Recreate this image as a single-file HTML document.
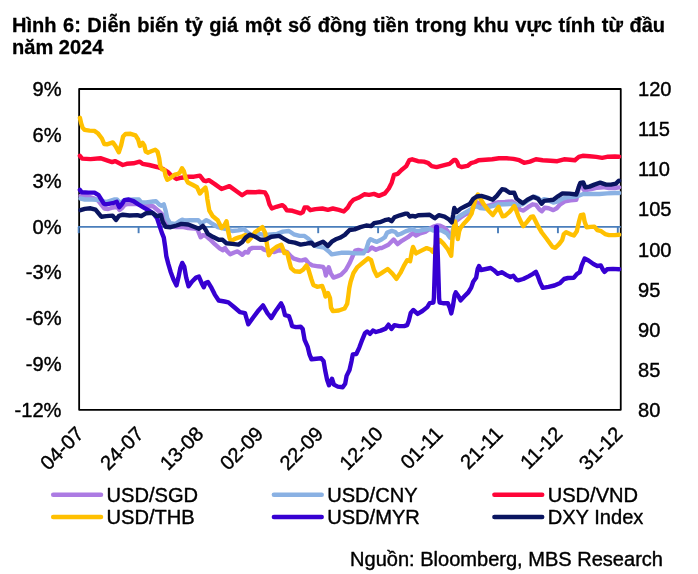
<!DOCTYPE html>
<html><head><meta charset="utf-8"><title>Chart</title>
<style>
html,body{margin:0;padding:0;background:#fff;}
body{width:698px;height:574px;overflow:hidden;position:relative;font-family:"Liberation Sans",sans-serif;}
svg{position:absolute;left:0;top:0;}
svg text{font-family:"Liberation Sans",sans-serif;fill:#000;stroke:#000;stroke-width:0.4px;stroke-linejoin:round;}
.t{font-weight:bold;font-size:20.05px;stroke-width:0.3px;}
.a{font-size:20.1px;}
</style></head><body>
<svg style="will-change:transform" width="698" height="574" viewBox="0 0 698 574">
<rect x="0" y="0" width="698" height="574" fill="#fff"/>
<text class="t" x="12" y="32.3" style="word-spacing:0.95px">Hình 6: Diễn biến tỷ giá một số đồng tiền trong khu vực tính từ đầu</text>
<text class="t" x="12" y="54.4">năm 2024</text>

<text class="a" text-anchor="end" x="61.5" y="96.1">9%</text>
<text class="a" text-anchor="end" x="61.5" y="141.9">6%</text>
<text class="a" text-anchor="end" x="61.5" y="187.8">3%</text>
<text class="a" text-anchor="end" x="61.5" y="233.6">0%</text>
<text class="a" text-anchor="end" x="61.5" y="279.4">-3%</text>
<text class="a" text-anchor="end" x="61.5" y="325.2">-6%</text>
<text class="a" text-anchor="end" x="61.5" y="371.1">-9%</text>
<text class="a" text-anchor="end" x="61.5" y="416.9">-12%</text>
<text class="a" x="638.0" y="96.1">120</text>
<text class="a" x="638.0" y="136.2">115</text>
<text class="a" x="638.0" y="176.3">110</text>
<text class="a" x="638.0" y="216.4">105</text>
<text class="a" x="638.0" y="256.5">100</text>
<text class="a" x="638.0" y="296.6">95</text>
<text class="a" x="638.0" y="336.7">90</text>
<text class="a" x="638.0" y="376.8">85</text>
<text class="a" x="638.0" y="416.9">80</text>
<rect x="79.15" y="89.0" width="541.6" height="320.8" fill="none" stroke="#000" stroke-width="1.8" stroke-linejoin="round"/>
<line x1="77.95" y1="226.9" x2="620.8" y2="226.9" stroke="#4A7EBB" stroke-width="1.9"/>
<line x1="78.7" y1="226.9" x2="78.7" y2="233.2" stroke="#4A7EBB" stroke-width="1.9"/>
<line x1="138.6" y1="226.9" x2="138.6" y2="233.2" stroke="#4A7EBB" stroke-width="1.9"/>
<line x1="198.4" y1="226.9" x2="198.4" y2="233.2" stroke="#4A7EBB" stroke-width="1.9"/>
<line x1="258.4" y1="226.9" x2="258.4" y2="233.2" stroke="#4A7EBB" stroke-width="1.9"/>
<line x1="318.2" y1="226.9" x2="318.2" y2="233.2" stroke="#4A7EBB" stroke-width="1.9"/>
<line x1="378.1" y1="226.9" x2="378.1" y2="233.2" stroke="#4A7EBB" stroke-width="1.9"/>
<line x1="438.0" y1="226.9" x2="438.0" y2="233.2" stroke="#4A7EBB" stroke-width="1.9"/>
<line x1="498.0" y1="226.9" x2="498.0" y2="233.2" stroke="#4A7EBB" stroke-width="1.9"/>
<line x1="557.9" y1="226.9" x2="557.9" y2="233.2" stroke="#4A7EBB" stroke-width="1.9"/>
<line x1="617.8" y1="226.9" x2="617.8" y2="233.2" stroke="#4A7EBB" stroke-width="1.9"/>
<g fill="none" stroke-width="4.4" stroke-linejoin="round" stroke-linecap="round">
<polyline stroke="#AC7BE3" points="80.5,196.0 88.0,196.5 94.5,198.5 98.4,201.0 101.5,205.0 104.3,208.5 108.2,209.0 113.0,207.5 117.0,206.5 119.5,210.0 122.0,208.0 124.5,205.0 128.0,203.8 131.6,204.0 138.0,204.0 145.0,206.0 153.0,206.3 158.9,211.2 163.0,215.0 166.0,222.0 170.0,226.0 176.0,227.0 182.3,226.8 188.2,228.0 194.0,228.5 197.5,229.5 199.3,234.0 200.7,237.3 202.8,235.3 205.5,235.5 209.8,239.3 214.8,244.2 219.6,248.3 223.0,250.3 225.0,248.0 227.3,251.4 230.2,254.3 234.2,252.5 237.6,251.4 239.9,253.1 242.2,254.8 245.1,252.0 248.0,252.5 249.7,249.1 252.6,247.9 261.8,247.9 264.1,249.7 268.0,251.0 274.4,252.0 279.0,250.2 283.0,250.5 287.0,252.0 290.5,256.0 294.0,258.7 299.7,260.4 302.6,260.2 305.5,259.5 308.4,263.0 312.3,265.4 318.2,266.3 323.0,266.9 324.6,269.5 325.9,275.5 327.3,270.5 328.7,267.3 330.8,273.3 333.5,277.6 337.7,276.1 341.0,274.7 345.7,270.0 349.6,263.2 352.6,256.3 355.2,250.7 358.4,249.9 362.0,250.9 367.8,250.9 371.8,247.5 375.9,249.7 380.0,248.0 381.5,248.1 388.4,244.7 393.6,239.5 397.6,244.1 402.2,240.6 407.9,237.2 411.4,234.3 413.1,233.2 416.0,235.5 419.4,233.7 425.2,232.0 430.9,228.0 434.4,226.3 437.5,225.5 440.1,225.7 444.7,228.0 447.5,231.0 449.7,235.6 451.5,238.0 453.0,230.0 456.0,221.0 460.6,217.5 465.2,214.5 470.7,212.0 473.7,207.0 476.7,202.2 480.0,203.5 485.0,206.5 490.0,205.5 495.1,203.2 498.6,202.2 505.0,202.0 511.9,201.4 516.0,204.0 519.9,209.5 523.4,210.6 528.0,207.2 532.6,204.3 536.0,204.9 539.5,209.5 541.8,211.2 544.7,207.8 548.7,208.3 553.3,210.1 556.7,208.3 560.2,204.3 564.8,201.4 570.5,200.3 576.3,199.7 577.8,193.0 579.2,185.3 581.5,184.5 583.7,189.8 585.6,190.2 591.5,189.0 597.3,187.7 603.2,187.2 609.0,188.1 614.9,188.0 619.1,187.4"/>
<polyline stroke="#8AB1E3" points="80.5,198.5 84.8,199.5 92.6,199.5 100.0,200.0 106.0,202.0 114.0,199.5 117.0,199.5 120.0,203.0 125.0,200.0 134.0,199.5 139.0,199.5 141.3,202.4 146.2,202.4 153.0,201.5 156.0,201.3 159.2,204.5 161.5,205.7 163.8,204.3 165.5,210.3 167.2,218.3 170.1,223.3 175.3,224.0 179.0,221.5 182.2,219.7 185.0,220.5 190.2,220.3 194.0,220.3 198.3,220.3 201.1,223.5 203.5,222.0 206.3,220.1 209.0,221.5 212.1,223.7 217.8,227.0 222.0,228.0 226.0,229.0 232.3,231.0 238.2,230.4 244.0,229.0 247.0,232.0 251.0,235.0 258.7,233.9 265.0,235.0 271.0,234.5 277.2,233.9 283.0,231.6 288.9,231.0 293.8,234.3 299.6,235.9 304.5,235.9 308.4,238.8 311.3,241.7 314.3,245.6 318.2,246.6 324.0,247.6 328.9,251.5 331.8,254.4 337.7,253.4 341.0,252.8 348.7,252.8 356.5,253.4 363.3,253.4 366.2,249.5 368.6,241.7 370.5,239.2 373.4,240.6 376.9,241.8 381.5,239.5 384.9,237.2 387.2,232.6 391.8,230.9 395.3,232.0 397.6,234.9 401.0,233.7 405.6,231.4 412.5,229.1 416.0,230.9 419.4,230.9 424.0,229.7 429.8,228.9 433.2,230.5 437.0,230.0 441.3,230.3 446.8,233.3 449.7,237.3 451.5,238.5 453.0,230.0 456.0,218.3 460.6,215.5 465.2,212.6 469.8,210.0 473.7,207.1 476.7,206.3 480.2,208.0 484.8,208.6 489.4,206.8 494.0,205.7 497.1,204.5 505.0,204.2 512.7,203.8 516.5,204.9 519.0,205.0 523.0,204.0 528.0,200.5 532.0,198.0 535.0,196.8 538.0,198.0 541.0,201.0 544.0,199.1 548.0,200.0 551.0,201.5 553.3,202.6 557.9,201.4 562.5,198.6 567.0,197.4 574.0,196.8 578.6,195.7 583.2,194.0 589.5,194.0 599.3,194.0 607.1,193.4 614.9,193.0 619.1,193.0"/>
<polyline stroke="#FF0538" points="79.9,155.8 82.2,158.6 90.6,159.1 100.4,158.2 106.2,160.1 112.1,162.1 115.0,161.1 118.9,163.0 122.8,165.0 126.7,163.8 133.5,163.3 139.6,161.6 142.5,163.8 149.1,165.0 157.0,167.0 162.8,168.9 167.7,171.8 171.6,175.7 176.5,179.0 181.3,177.7 188.2,176.7 194.0,176.7 199.9,175.7 203.8,180.6 206.0,181.2 208.9,180.2 214.8,184.1 221.6,189.0 229.4,186.1 236.2,191.0 242.1,195.3 247.0,192.0 255.7,192.2 259.2,191.8 264.9,192.4 267.2,196.4 269.5,204.5 271.8,208.5 276.4,206.8 282.2,205.1 284.5,206.8 286.8,210.2 292.5,210.8 300.6,213.4 302.9,212.0 304.6,207.4 307.5,207.4 310.3,210.2 315.5,209.1 322.4,208.5 327.9,209.8 332.8,208.5 338.9,209.9 343.8,211.5 347.7,207.6 350.6,202.7 353.5,199.8 358.4,197.8 364.3,194.3 369.1,194.9 374.0,193.9 378.9,195.9 384.9,193.4 388.8,188.5 391.7,182.7 394.0,174.9 397.6,173.9 401.5,170.0 406.3,166.1 409.3,160.2 412.2,159.3 418.0,161.2 423.9,161.6 427.8,162.8 431.7,166.1 436.6,167.1 440.5,166.1 446.3,164.7 449.5,163.9 452.3,161.5 454.0,160.0 455.6,160.0 457.1,161.8 458.6,165.7 461.5,167.0 467.4,165.9 470.9,163.2 475.0,162.0 478.5,160.2 485.4,159.7 492.2,159.3 499.0,158.3 506.8,158.3 513.4,158.9 519.3,160.2 524.1,162.8 530.0,161.6 535.9,159.3 542.7,160.2 550.5,160.8 557.3,161.2 564.1,159.3 570.0,159.7 574.9,160.2 578.8,156.9 582.7,155.8 589.5,156.3 596.3,156.9 602.2,157.9 608.0,156.7 614.9,156.5 619.1,156.7"/>
<polyline stroke="#FFC000" points="79.9,117.8 81.2,123.5 82.6,127.6 84.5,129.8 89.6,130.6 94.4,130.9 97.8,133.2 101.9,138.5 104.2,144.0 107.0,144.3 112.8,142.4 115.7,146.4 118.8,152.3 121.2,145.0 123.1,136.5 125.5,134.0 130.6,133.8 135.5,135.3 138.1,139.5 139.9,146.0 142.5,142.8 144.3,145.5 145.7,151.5 147.8,152.7 151.9,151.0 155.2,149.7 157.5,151.6 159.2,158.3 160.3,166.2 162.1,169.3 164.4,169.9 165.5,175.6 167.3,179.8 170.7,177.9 174.7,174.6 178.2,173.9 180.1,172.1 182.0,168.3 183.9,171.2 185.6,177.9 187.9,182.5 192.5,184.8 197.1,187.3 199.9,193.5 202.8,190.0 205.4,187.6 206.5,192.0 207.3,198.8 209.3,210.5 212.8,216.3 217.7,220.2 221.6,228.0 224.5,225.1 226.5,221.2 228.3,232.0 229.6,238.0 231.0,241.3 234.8,238.9 238.2,237.6 242.5,236.3 245.3,235.0 248.0,241.3 251.0,238.0 254.9,232.4 259.6,229.0 262.4,227.1 265.2,233.0 267.0,244.5 268.8,255.2 272.1,250.3 276.7,246.8 281.2,244.7 283.0,249.0 284.3,253.0 287.2,252.7 288.8,259.4 291.1,268.2 294.5,271.2 299.7,271.8 303.2,269.6 306.5,265.4 308.4,269.3 311.3,279.0 313.3,284.9 317.2,286.8 322.1,285.9 324.0,290.7 325.5,296.5 328.0,293.0 330.0,298.0 331.0,307.6 332.9,311.1 338.8,310.5 344.6,308.5 347.2,303.7 348.3,296.0 349.3,288.0 350.6,281.7 353.5,272.9 357.4,267.1 363.3,262.2 368.2,258.3 371.1,260.2 374.0,270.0 377.0,275.9 381.8,272.9 387.7,269.0 392.6,273.9 396.5,278.8 400.4,272.9 404.3,265.1 407.2,260.2 410.1,261.2 412.1,250.5 413.0,247.0 416.0,253.4 420.9,250.9 426.7,248.1 430.6,249.5 433.0,252.0 436.5,244.0 439.9,240.2 443.4,243.6 448.0,249.5 451.2,255.8 452.3,241.0 453.6,228.7 455.0,221.5 456.3,228.5 457.8,239.0 459.1,231.5 460.5,227.8 463.5,224.0 466.1,221.3 468.7,218.3 471.6,213.7 473.3,206.8 475.6,199.0 477.9,194.5 480.2,198.4 483.6,204.0 488.2,210.3 492.8,215.1 495.7,210.9 498.6,206.8 500.3,211.4 502.6,216.3 505.0,215.8 509.6,211.8 512.5,208.3 514.2,206.0 515.9,209.5 518.2,215.8 521.1,222.1 523.4,226.1 526.8,222.1 530.9,217.0 533.2,216.4 535.5,221.0 538.3,226.7 541.8,232.5 546.4,238.5 552.4,246.8 555.4,247.8 559.3,243.9 562.2,240.0 563.8,234.1 566.1,232.2 570.0,234.1 573.9,235.5 576.8,231.2 578.8,222.4 580.7,215.2 583.3,214.6 584.6,221.5 586.6,227.3 590.5,226.9 594.4,226.7 597.3,230.2 601.2,231.2 605.1,234.1 609.0,235.1 614.9,235.1 619.1,234.7"/>
<polyline stroke="#3600D2" points="79.9,189.9 81.8,192.3 88.7,192.6 94.5,192.6 98.6,195.2 101.3,199.5 103.8,203.6 106.0,204.3 114.0,202.8 116.8,201.8 119.2,207.2 121.8,204.2 124.5,200.1 128.7,199.5 133.5,201.1 138.4,204.4 143.3,207.3 148.2,210.2 153.0,213.2 157.0,218.0 159.9,226.8 161.8,232.7 163.8,237.6 165.1,246.3 166.3,256.1 168.3,263.9 170.6,271.7 173.5,279.5 176.5,285.4 178.4,277.6 180.4,267.8 182.3,262.9 184.3,266.8 186.2,277.6 188.6,286.3 192.1,281.5 196.0,277.6 198.9,276.6 201.8,283.4 203.8,287.3 205.5,283.0 207.9,282.0 210.9,286.8 214.8,294.6 218.7,300.5 224.5,301.5 228.4,302.4 234.3,307.3 240.1,312.2 245.0,313.2 247.0,320.0 248.3,324.3 252.8,318.0 258.7,310.2 263.0,305.4 267.4,313.2 271.3,318.0 276.2,310.2 281.1,303.4 283.0,307.3 285.0,315.1 288.9,316.1 291.0,322.0 292.0,326.1 295.9,327.1 300.7,326.7 302.7,329.0 304.6,339.8 307.6,346.6 309.5,354.4 311.5,359.3 316.3,358.7 321.2,358.3 323.6,361.2 325.1,370.0 327.1,379.8 329.0,385.2 332.0,378.8 333.9,384.6 337.8,386.6 342.7,387.2 345.2,383.7 346.6,375.9 349.5,370.0 351.5,361.2 352.8,354.4 356.3,354.0 359.3,347.6 362.2,339.8 365.1,332.9 367.1,331.4 370.0,333.9 372.9,330.6 375.9,332.0 380.7,330.6 385.6,328.6 388.5,324.7 391.5,329.0 394.4,325.1 399.3,326.1 404.1,326.1 407.1,325.1 408.8,320.7 410.7,312.9 413.3,310.0 417.6,313.9 422.4,311.0 427.3,307.1 429.7,303.2 433.4,302.6 433.9,298.0 436.1,227.0 436.9,227.0 439.1,298.0 439.6,302.6 442.9,303.2 447.8,303.2 449.8,308.0 451.3,313.4 452.9,306.1 454.6,295.4 455.8,292.4 458.5,296.3 460.5,300.4 464.4,296.3 468.3,292.4 471.2,287.6 473.2,281.7 476.1,277.8 477.7,269.0 479.0,266.1 481.0,270.0 485.9,269.0 490.7,268.0 493.9,270.2 497.8,273.8 501.7,272.2 506.6,275.1 510.5,277.1 513.4,275.7 516.3,279.6 518.3,280.4 523.2,279.0 529.0,276.1 532.9,273.8 535.9,271.8 537.8,276.1 540.3,282.9 542.7,287.8 548.5,286.8 554.4,285.5 560.2,282.9 564.1,279.0 568.0,278.0 573.9,277.7 576.8,274.1 579.8,272.2 581.7,265.4 584.6,258.5 588.5,260.5 593.4,264.0 597.3,266.0 600.8,265.4 603.2,270.2 604.5,271.8 607.1,269.3 612.9,268.9 619.1,269.3"/>
<polyline stroke="#0A1560" points="80.5,210.2 84.8,208.9 90.6,208.3 95.5,209.7 98.4,213.2 101.3,216.7 106.2,216.1 112.6,215.6 116.0,220.0 119.0,215.8 122.8,214.7 129.6,215.5 137.4,215.1 141.3,216.1 146.2,213.2 152.1,212.8 157.0,216.1 160.9,215.1 162.8,222.0 165.7,226.8 170.6,227.2 176.5,225.5 181.3,223.9 188.2,224.5 194.0,226.8 198.9,228.8 202.8,225.9 205.2,229.0 207.9,233.9 212.8,236.8 218.7,239.8 222.6,239.8 226.5,243.3 232.3,243.9 238.5,244.6 242.2,242.2 245.7,237.6 249.7,234.7 254.9,236.5 260.6,239.8 265.5,239.8 271.3,236.8 279.1,235.9 284.0,238.8 288.9,241.7 294.8,242.7 300.6,244.6 306.5,243.7 311.3,242.7 314.3,245.6 318.2,243.7 323.0,241.7 327.9,246.0 331.8,241.7 335.7,239.3 339.9,237.8 344.8,234.9 349.6,230.0 354.5,229.4 360.4,227.1 366.2,225.5 371.1,226.1 374.0,223.2 379.9,222.2 384.8,220.2 388.7,219.3 391.6,221.2 394.5,217.3 399.9,215.3 405.6,213.6 407.4,213.6 409.7,216.5 412.5,215.9 415.4,216.5 418.3,215.3 424.8,215.0 429.6,214.7 434.8,218.3 438.8,215.1 444.5,216.6 449.1,219.5 451.7,222.4 453.2,214.9 454.3,208.0 456.6,212.0 460.6,208.6 465.2,206.3 469.8,204.0 473.3,198.8 476.7,196.5 481.3,195.9 487.1,197.6 492.8,199.7 496.8,195.9 500.3,191.3 502.0,189.3 505.0,189.6 509.6,192.8 514.2,192.8 516.5,198.6 519.4,200.9 522.8,203.2 527.4,199.7 533.2,196.8 538.3,199.1 541.6,203.7 544.1,200.9 553.3,199.7 557.9,196.3 562.5,193.4 569.4,193.6 576.3,194.5 578.6,187.6 580.3,183.0 583.2,182.5 585.3,187.3 589.5,186.6 594.4,184.6 600.2,182.7 606.1,184.6 611.0,184.6 615.9,183.7 618.2,181.3 619.1,180.7"/>
</g>
<text class="a" text-anchor="end" transform="translate(84.9,435) rotate(-45)">04-07</text>
<text class="a" text-anchor="end" transform="translate(144.8,435) rotate(-45)">24-07</text>
<text class="a" text-anchor="end" transform="translate(204.6,435) rotate(-45)">13-08</text>
<text class="a" text-anchor="end" transform="translate(264.5,435) rotate(-45)">02-09</text>
<text class="a" text-anchor="end" transform="translate(324.3,435) rotate(-45)">22-09</text>
<text class="a" text-anchor="end" transform="translate(384.2,435) rotate(-45)">12-10</text>
<text class="a" text-anchor="end" transform="translate(444.0,435) rotate(-45)">01-11</text>
<text class="a" text-anchor="end" transform="translate(503.9,435) rotate(-45)">21-11</text>
<text class="a" text-anchor="end" transform="translate(563.7,435) rotate(-45)">11-12</text>
<text class="a" text-anchor="end" transform="translate(623.6,435) rotate(-45)">31-12</text>
<line x1="53.2" y1="494.7" x2="101.0" y2="494.7" stroke="#AC7BE3" stroke-width="4.5" stroke-linecap="round"/>
<text class="a" x="106.5" y="501.7">USD/SGD</text>
<line x1="273.9" y1="494.7" x2="321.7" y2="494.7" stroke="#8AB1E3" stroke-width="4.5" stroke-linecap="round"/>
<text class="a" x="327.2" y="501.7">USD/CNY</text>
<line x1="494.4" y1="494.7" x2="542.2" y2="494.7" stroke="#FF0538" stroke-width="4.5" stroke-linecap="round"/>
<text class="a" x="547.7" y="501.7">USD/VND</text>
<line x1="53.2" y1="516.9" x2="101.0" y2="516.9" stroke="#FFC000" stroke-width="4.5" stroke-linecap="round"/>
<text class="a" x="106.5" y="523.9">USD/THB</text>
<line x1="273.9" y1="516.9" x2="321.7" y2="516.9" stroke="#3600D2" stroke-width="4.5" stroke-linecap="round"/>
<text class="a" x="327.2" y="523.9">USD/MYR</text>
<line x1="494.4" y1="516.9" x2="542.2" y2="516.9" stroke="#0A1560" stroke-width="4.5" stroke-linecap="round"/>
<text class="a" x="547.7" y="523.9">DXY Index</text>
<text class="a" style="font-size:20.05px" x="350.1" y="565.7">Nguồn: Bloomberg, MBS Research</text>
</svg></body></html>
